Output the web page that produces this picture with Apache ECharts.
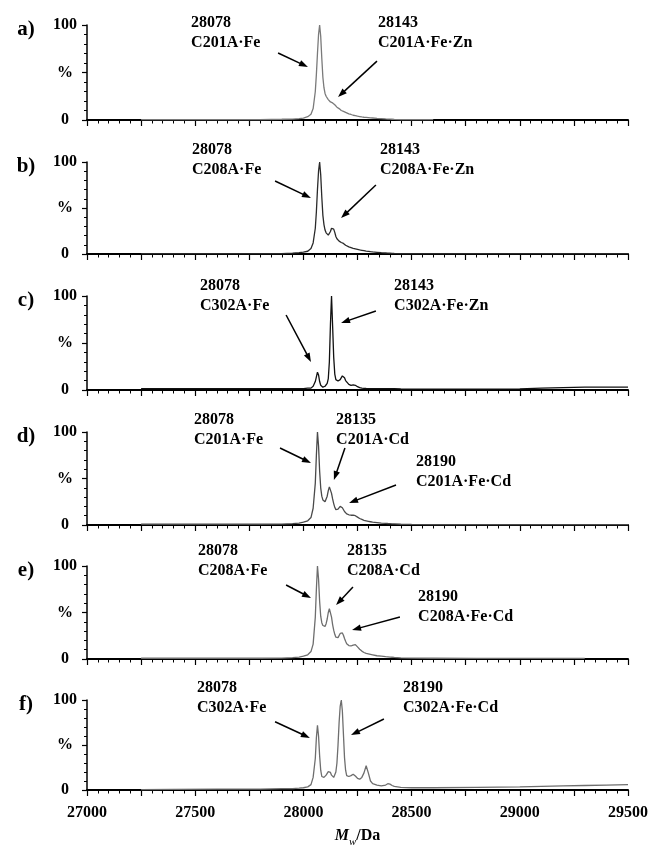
<!DOCTYPE html>
<html><head><meta charset="utf-8">
<script src="https://cdn.jsdelivr.net/npm/echarts@6/dist/echarts.min.js"></script>
<style>html,body{margin:0;padding:0;background:#fff}#c{width:658px;height:849px}</style>
</head><body><div id="c"></div>
<script>
// ---------- DATA ----------
const massDa = [
  27250,27400,27600,27800,27900,27950,27980,28000,28020,28035,
  28045,28055,28060,28065,28070,28075,28080,28085,28090,28095,
  28100,28105,28110,28115,28120,28125,28130,28135,28140,28145,
  28150,28155,28160,28165,28170,28175,28180,28185,28190,28195,
  28200,28210,28220,28230,28235,28240,28250,28260,28270,28280,
  28290,28300,28310,28320,28340,28360,28380,28390,28400,28410,
  28420,28450,28500,28600,28800,29000,29100,29200,29300,29400,29500
];
const intensityA = [
  0.5,0.5,0.5,0.5,0.8,1,1.5,2,3.5,6,
  12,30,48,70,90,100,88,65,45,34,
  28,25,23,21.5,20,19,18.5,18,17.5,16,
  14.5,13.5,12.5,12,11,10,9.5,9,8.5,8,
  7.5,6.5,5.8,5,4.8,4.5,4,3.6,3.2,2.9,
  2.7,2.5,2.3,2.1,1.7,1.4,1.1,1,0.9,0.8,
  0.7,0.5,0.4,0.3,null,null,null,null,null,null,null
];
const intensityB = [
  0.3,0.3,0.3,0.3,0.5,1,1.5,2,3,6,
  12,28,46,70,90,100,86,62,42,32,
  26,23,21,20.5,21.5,24.5,28,29,27,23.5,
  19,16.5,15,14,13,12.5,12,11.5,10.5,9.5,
  8.8,7.8,7,6.2,6,5.6,5,4.4,4,3.6,
  3.2,2.9,2.5,2.2,1.8,1.4,1.1,0.9,0.8,0.7,
  0.6,0.5,0.4,0.3,0.3,0.3,0.3,0.3,0.3,0.3,0.3
];
const intensityC = [
  1.5,1.5,1.5,1.5,1.5,1.5,1.5,1.5,2,2,
  4,9,14,19,16,9,5,3.5,3,3.5,
  4,5,7,12,30,70,100,68,35,17,
  11,9.5,9.5,10,11,13,15,15,13,10,
  8,6,5,5.5,5.5,5,3.5,2.5,2,1.8,
  1.6,1.5,1.5,1.5,1.5,1.5,1.5,1.5,1.5,1.5,
  1.5,1.2,1,1,1,1.2,2,2.5,3,3,3
];
const intensityD = [
  0.8,0.8,0.8,0.8,1,1.5,2,3,4.5,8,
  18,45,75,100,85,58,40,31,27,25,
  25,27,31,37,41,40,34,28,23,19,
  16.5,16,17,18.5,20,20,18.5,16.5,14.5,13,
  12,11,10.5,10.5,10.5,10,8.5,7,6,5,
  4.5,4,3.5,3,2.5,2,1.8,1.6,1.5,1.3,
  1.2,0.8,0.6,0.5,0.5,0.5,0.5,0.5,0.5,0.5,0.5
];
const intensityE = [
  0.8,0.8,0.8,0.8,1,1.5,2,3,4.5,8,
  16,45,75,100,86,62,46,39,36,34.5,
  35,38,43,50,54,52,45,37,31,26.5,
  23.5,22.5,23,25,27.5,28.5,28,25.5,22,19,
  16.5,14.5,14,15,16,15.5,13,10.5,8.5,7,
  6,5.5,5,4.5,3.5,3,2.5,2.3,2.1,1.9,
  1.7,1.2,1,0.8,0.6,0.6,0.6,0.6,0.6,null,null
];
const intensityF = [
  0.5,0.8,1,1,1.5,1.5,2,2.5,3.5,6,
  14,35,58,72,60,38,22,15,13.5,14,
  15,16.5,18.5,20.5,21,19.5,16.5,15,14,15,
  20,30,50,75,93,100,88,62,36,22,
  16,15,16,17.5,17,15.5,13,12,14,19,
  27,19,10,7,5.5,4.5,5.5,7,6.5,5,
  4,3,2.5,2.5,3,3.5,4,4.5,5,5.5,6
];
const panelSeries = [intensityA, intensityB, intensityC, intensityD, intensityE, intensityF];
const panelColors = ['#7a7a7a', '#2a2a2a', '#111111', '#4a4a4a', '#6e6e6e', '#6e6e6e'];
const panelLetters = ['a)', 'b)', 'c)', 'd)', 'e)', 'f)'];
const yTickLabels = { 0: '0', 50: '%', 100: '100' };
const xLabelStep = 500;

// annotations: text anchor = [mass, percent] of first line's left/middle
const annotationTexts = [
  { panel: 0, lines: ['28078', 'C201A·Fe'], at: [27481, 102] },
  { panel: 0, lines: ['28143', 'C201A·Fe·Zn'], at: [28345, 102] },
  { panel: 1, lines: ['28078', 'C208A·Fe'], at: [27485, 113] },
  { panel: 1, lines: ['28143', 'C208A·Fe·Zn'], at: [28354, 113] },
  { panel: 2, lines: ['28078', 'C302A·Fe'], at: [27522, 111] },
  { panel: 2, lines: ['28143', 'C302A·Fe·Zn'], at: [28419, 111] },
  { panel: 3, lines: ['28078', 'C201A·Fe'], at: [27494, 113] },
  { panel: 3, lines: ['28135', 'C201A·Cd'], at: [28151, 113] },
  { panel: 3, lines: ['28190', 'C201A·Fe·Cd'], at: [28520, 68] },
  { panel: 4, lines: ['28078', 'C208A·Fe'], at: [27513, 116] },
  { panel: 4, lines: ['28135', 'C208A·Cd'], at: [28201, 116] },
  { panel: 4, lines: ['28190', 'C208A·Fe·Cd'], at: [28530, 67] },
  { panel: 5, lines: ['28078', 'C302A·Fe'], at: [27508, 114] },
  { panel: 5, lines: ['28190', 'C302A·Fe·Cd'], at: [28460, 114] }
];
const annotationArrows = [
  { panel: 0, from: [27883, 70.5], to: [28021, 55.8] },
  { panel: 0, from: [28340, 62], to: [28160, 24.2] },
  { panel: 1, from: [27869, 79.3], to: [28035, 60.9] },
  { panel: 1, from: [28335, 75], to: [28174, 39] },
  { panel: 2, from: [27920, 79.8], to: [28035, 29.8] },
  { panel: 2, from: [28335, 84], to: [28174, 71.3] },
  { panel: 3, from: [27892, 82.8], to: [28035, 66.7] },
  { panel: 3, from: [28192, 82.8], to: [28141, 48.4] },
  { panel: 3, from: [28428, 43], to: [28211, 23.7] },
  { panel: 4, from: [27920, 79.6], to: [28035, 65.6] },
  { panel: 4, from: [28229, 77.4], to: [28151, 58] },
  { panel: 4, from: [28446, 45.2], to: [28225, 31.2] },
  { panel: 5, from: [27869, 75.8], to: [28030, 57.9] },
  { panel: 5, from: [28372, 78.9], to: [28220, 61] }
];

// ---------- LAYOUT ----------
const FONT = '"Liberation Serif", "DejaVu Serif", serif';
const gridTops = [25, 162, 296, 432, 566, 700];
const gridHeights = [95, 92, 94, 93, 93, 95];
const gridLeft = 87, gridRight = 30;

const grids = [], xAxes = [], yAxes = [], series = [];
for (let i = 0; i < 6; i++) {
  const last = i === 5;
  grids.push({ left: gridLeft, right: gridRight, top: gridTops[i], height: gridHeights[i], containLabel: false });
  xAxes.push({
    type: 'value', gridIndex: i, min: 27000, max: 29500, interval: 250,
    axisLine: { show: true, onZero: false, lineStyle: { color: '#000', width: 2 } },
    axisTick: { show: true, length: 6, lineStyle: { color: '#000', width: 1.2 } },
    minorTick: { show: true, splitNumber: 5, length: 3.5, lineStyle: { color: '#000', width: 1 } },
    splitLine: { show: false }, minorSplitLine: { show: false },
    axisLabel: last ? {
      show: true, margin: 15, color: '#000', fontFamily: FONT, fontWeight: 'bold', fontSize: 16,
      formatter: v => (v % xLabelStep === 0 ? String(v) : '')
    } : { show: false },
    name: last ? '{it|M}{sub|w}{n|/Da}' : '',
    nameLocation: 'middle', nameGap: 36,
    nameTextStyle: {
      color: '#000', fontFamily: FONT,
      rich: {
        it: { fontStyle: 'italic', fontWeight: 'bold', fontSize: 16, fontFamily: FONT, color: '#000', verticalAlign: 'bottom', lineHeight: 18 },
        sub: { fontStyle: 'italic', fontSize: 11, fontFamily: FONT, color: '#000', verticalAlign: 'bottom', lineHeight: 12, padding: [0, 0, -4, 0] },
        n: { fontWeight: 'bold', fontSize: 16, fontFamily: FONT, color: '#000', verticalAlign: 'bottom', lineHeight: 18 }
      }
    }
  });
  yAxes.push({
    type: 'value', gridIndex: i, min: 0, max: 100, interval: 50,
    axisLine: { show: true, lineStyle: { color: '#000', width: 1.5 } },
    axisTick: { show: true, length: 5, lineStyle: { color: '#000', width: 1.2 } },
    minorTick: { show: true, splitNumber: 5, length: 3, lineStyle: { color: '#000', width: 1 } },
    splitLine: { show: false }, minorSplitLine: { show: false },
    axisLabel: {
      show: true, margin: 22, align: 'center', color: '#000', fontFamily: FONT, fontWeight: 'bold', fontSize: 16,
      formatter: v => (yTickLabels[v] !== undefined ? yTickLabels[v] : '')
    }
  });
  const vals = panelSeries[i];
  series.push({
    type: 'line', xAxisIndex: i, yAxisIndex: i, showSymbol: false, symbol: 'none', clip: false,
    lineStyle: { color: panelColors[i], width: 1.3 },
    data: massDa.map((m, k) => [m, vals[k]]).filter(d => d[1] !== null && d[1] !== undefined),
    animation: false
  });
}

const chart = echarts.init(document.getElementById('c'), null, { renderer: 'canvas' });
chart.setOption({
  animation: false,
  backgroundColor: '#fff',
  grid: grids, xAxis: xAxes, yAxis: yAxes, series: series
});

// ---------- ANNOTATIONS (positioned through the axes' scales) ----------
const LINE_H = 20;
const graphics = [];
annotationTexts.forEach(a => {
  const p = chart.convertToPixel({ seriesIndex: a.panel }, a.at);
  graphics.push({
    type: 'text', x: p[0], y: p[1] - LINE_H / 2, silent: true,
    style: { text: a.lines.join('\n'), fill: '#000', fontFamily: FONT, fontWeight: 'bold', fontSize: 16, lineHeight: LINE_H, align: 'left', verticalAlign: 'top' }
  });
});
annotationArrows.forEach(a => {
  const p1 = chart.convertToPixel({ seriesIndex: a.panel }, a.from);
  const p2 = chart.convertToPixel({ seriesIndex: a.panel }, a.to);
  const dx = p2[0] - p1[0], dy = p2[1] - p1[1];
  const L = Math.hypot(dx, dy), ux = dx / L, uy = dy / L;
  const hl = 9, hw = 3.2;
  const bx = p2[0] - ux * hl, by = p2[1] - uy * hl;
  graphics.push({ type: 'line', silent: true, shape: { x1: p1[0], y1: p1[1], x2: bx + ux * 1, y2: by + uy * 1 }, style: { stroke: '#000', lineWidth: 1.5 } });
  graphics.push({ type: 'polygon', silent: true, shape: { points: [[p2[0], p2[1]], [bx - uy * hw, by + ux * hw], [bx + uy * hw, by - ux * hw]] }, style: { fill: '#000' } });
});
panelLetters.forEach((t, i) => {
  const p = chart.convertToPixel({ seriesIndex: i }, [27000, 100]);
  graphics.push({
    type: 'text', x: 26, y: p[1] + 5, silent: true,
    style: { text: t, fill: '#000', fontFamily: FONT, fontWeight: 'bold', fontSize: 21, align: 'center', verticalAlign: 'middle' }
  });
});
chart.setOption({ graphic: graphics });
</script>
</body></html>
